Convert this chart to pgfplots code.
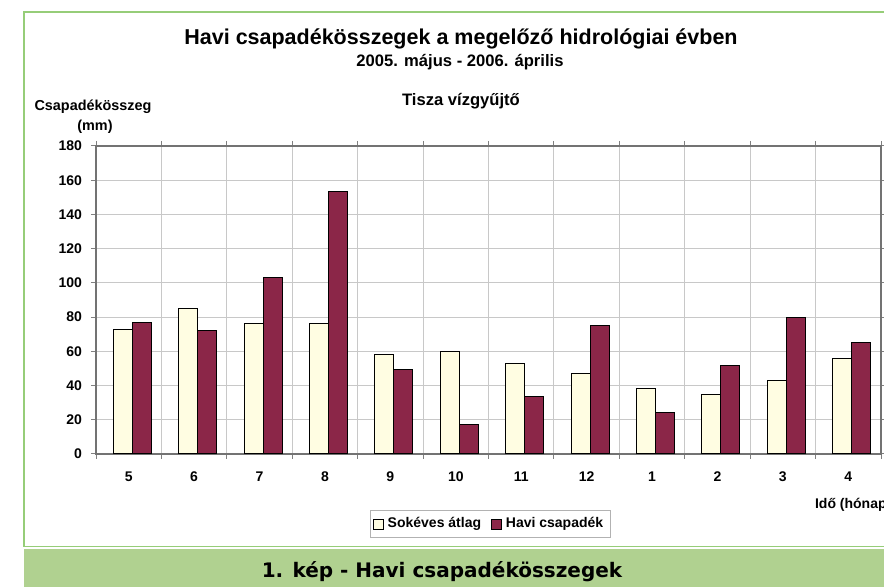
\documentclass[border=0pt]{standalone}
\usepackage{fontspec}
\setmainfont{Liberation Sans}
\newfontfamily\bandfont{DejaVu Sans}
\usepackage{pgfplots}
\pgfplotsset{compat=1.18}
\definecolor{cream}{RGB}{255,253,226}
\definecolor{maroon}{RGB}{139,38,72}
\definecolor{framegreen}{RGB}{150,205,120}
\definecolor{bandgreen}{RGB}{176,209,144}
\definecolor{gridgray}{RGB}{200,200,200}
\begin{document}
\begin{tikzpicture}[x=1pt,y=1pt]
\useasboundingbox (0,0) rectangle (442,293.5);
\clip (0,0) rectangle (442,293.5);
\fill[white] (0,0) rectangle (442,293.5);
\draw[framegreen, line width=0.9pt] (450,20.2) -- (12,20.2) -- (12,287.5) -- (450,287.5);
\fill[bandgreen] (12,-2) rectangle (450,19);
\node[font=\bandfont\bfseries\fontsize{10}{12}\selectfont] at (221,7.5) {1. kép - Havi csapadékösszegek};
\node[font=\bfseries\fontsize{10.75}{12}\selectfont] at (230.5,274) {Havi csapadékösszegek a megelőző hidrológiai évben};
\node[font=\bfseries\fontsize{8.3}{9}\selectfont] at (230,262.5) {2005. május - 2006. április};
\node[font=\bfseries\fontsize{8.3}{9}\selectfont] at (230.5,243) {Tisza vízgyűjtő};
\node[font=\bfseries\fontsize{7.2}{9}\selectfont] at (46.5,240) {Csapadékösszeg};
\node[font=\bfseries\fontsize{7.2}{9}\selectfont] at (47.5,230) {(mm)};
\node[font=\bfseries\fontsize{7}{9}\selectfont, anchor=west] at (404,41) {Idő (hónap)};
\begin{axis}[
  at={(48pt,66.5pt)}, anchor=south west,
  scale only axis, width=392.5pt, height=154pt,
  ymin=0, ymax=180, ytick={0,20,...,180},
  xmin=-0.5, xmax=11.5, xtick={0,...,11},
  xticklabels={5,6,7,8,9,10,11,12,1,2,3,4},
  minor xtick={-0.5,0.5,...,11.5},
  major x tick style={draw=none},
  minor x tick style={draw=gray, line width=0.5pt},
  ytick style={draw=gray, line width=0.5pt},
  tick align=outside, major tick length=2.5pt, minor tick length=2.5pt,
  xminorgrids, ymajorgrids,
  grid style={gridgray, line width=0.45pt},
  minor grid style={gridgray, line width=0.45pt},
  axis line style={draw=gray!90!black, line width=0.6pt},
  /pgf/number format/assume math mode=true,
  ticklabel style={font=\bfseries\fontsize{7}{8}\selectfont},
  xticklabel style={yshift=-3pt},
  yticklabel style={xshift=-1pt},
  ybar=0pt, bar width=9.5pt,
  legend style={at={(0.502,-0.227)}, anchor=center, legend columns=2,
    draw=gray!60, font=\bfseries\fontsize{7}{8}\selectfont,
    inner sep=1.5pt, /tikz/every even column/.append style={column sep=3pt}},
  legend image code/.code={\draw[#1,draw=black,line width=0.4pt] (0pt,-2.5pt) rectangle (5pt,2.5pt);},
]
\addplot[fill=cream, draw=black, line width=0.5pt, bar shift=-3pt] coordinates {
(0,73) (1,85) (2,76) (3,76) (4,58) (5,60) (6,53) (7,47) (8,38) (9,35) (10,43) (11,56)};
\addplot[fill=maroon, draw=black, line width=0.5pt, bar shift=6.5pt] coordinates {
(0,77) (1,72) (2,103) (3,153.5) (4,49.5) (5,17.5) (6,33.5) (7,75) (8,24) (9,52) (10,80) (11,65)};
\legend{Sokéves átlag, Havi csapadék}
\end{axis}
\end{tikzpicture}
\end{document}
